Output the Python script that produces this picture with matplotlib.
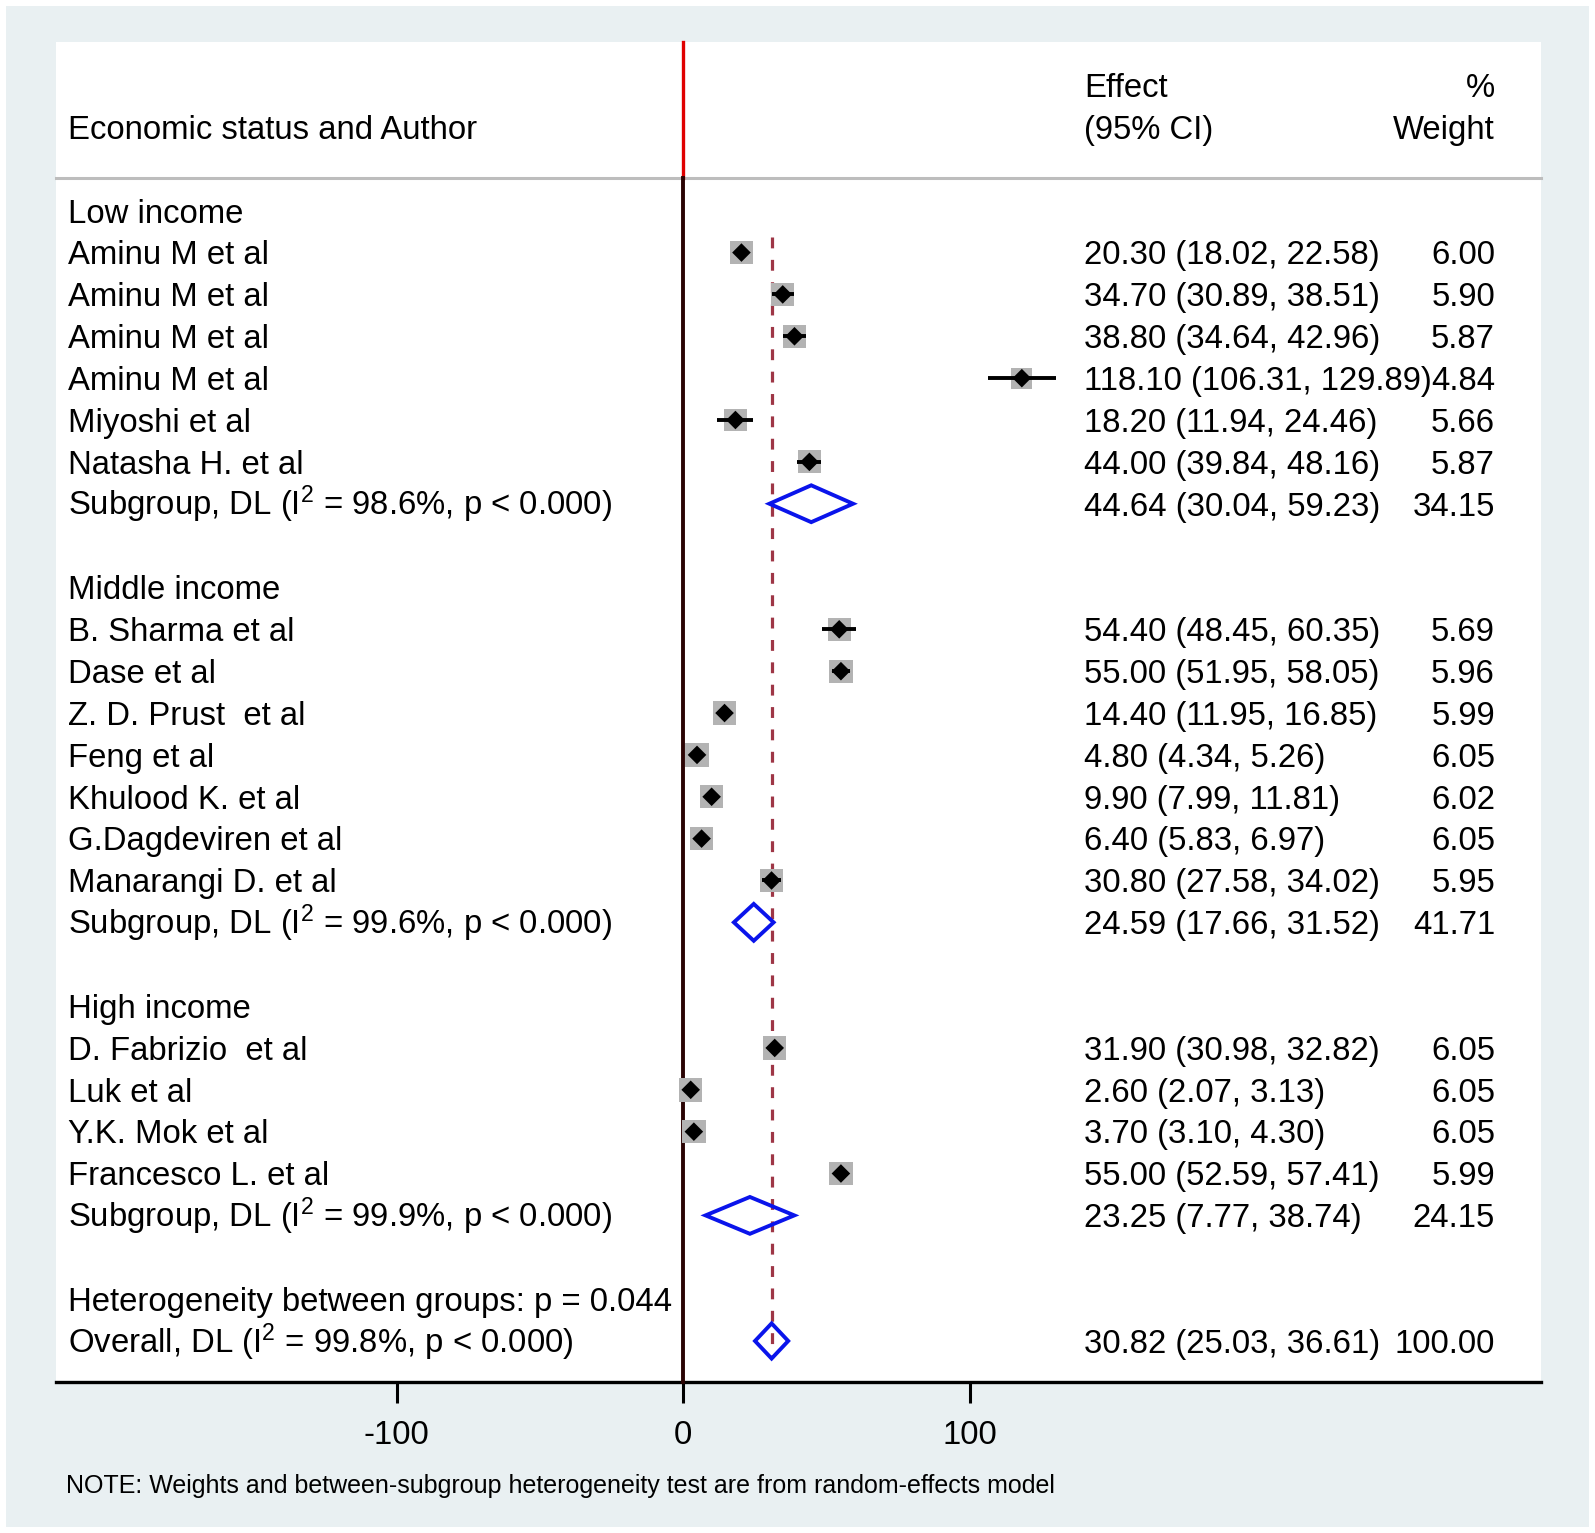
import matplotlib
matplotlib.use('Agg')
import matplotlib.pyplot as plt
from matplotlib.patches import Polygon, Rectangle
import matplotlib.transforms as mtransforms

plt.rcParams['font.family'] = ['Liberation Sans', 'DejaVu Sans']
plt.rcParams['mathtext.fontset'] = 'custom'
plt.rcParams['mathtext.rm'] = 'Liberation Sans'
plt.rcParams['mathtext.it'] = 'Liberation Sans:italic'
plt.rcParams['mathtext.bf'] = 'Liberation Sans:bold'

# ---------------- data ----------------
group_names = ["Low income", "Middle income", "High income"]

low_authors = ["Aminu M et al", "Aminu M et al", "Aminu M et al", "Aminu M et al",
               "Miyoshi et al", "Natasha H. et al"]
low_est = [20.30, 34.70, 38.80, 118.10, 18.20, 44.00]
low_lo = [18.02, 30.89, 34.64, 106.31, 11.94, 39.84]
low_hi = [22.58, 38.51, 42.96, 129.89, 24.46, 48.16]
low_w = [6.00, 5.90, 5.87, 4.84, 5.66, 5.87]

mid_authors = ["B. Sharma et al", "Dase et al", "Z. D. Prust  et al", "Feng et al",
               "Khulood K. et al", "G.Dagdeviren et al", "Manarangi D. et al"]
mid_est = [54.40, 55.00, 14.40, 4.80, 9.90, 6.40, 30.80]
mid_lo = [48.45, 51.95, 11.95, 4.34, 7.99, 5.83, 27.58]
mid_hi = [60.35, 58.05, 16.85, 5.26, 11.81, 6.97, 34.02]
mid_w = [5.69, 5.96, 5.99, 6.05, 6.02, 6.05, 5.95]

high_authors = ["D. Fabrizio  et al", "Luk et al", "Y.K. Mok et al", "Francesco L. et al"]
high_est = [31.90, 2.60, 3.70, 55.00]
high_lo = [30.98, 2.07, 3.10, 52.59]
high_hi = [32.82, 3.13, 4.30, 57.41]
high_w = [6.05, 6.05, 6.05, 5.99]

sub_est = [44.64, 24.59, 23.25]
sub_lo = [30.04, 17.66, 7.77]
sub_hi = [59.23, 31.52, 38.74]
sub_w = [34.15, 41.71, 24.15]
sub_i2 = ["98.6", "99.6", "99.9"]

overall_est = 30.82
overall_lo = 25.03
overall_hi = 36.61
overall_w = 100.00
overall_i2 = "99.8"
between_p = "0.044"

xticks = [-100, 0, 100]

# ---------------- layout ----------------
W, H = 1595, 1533
fig = plt.figure(figsize=(W / 100, H / 100), dpi=100)
fig.patch.set_facecolor('white')
bgax = fig.add_axes([0, 0, 1, 1], zorder=-5)
bgax.set_xlim(0, W)
bgax.set_ylim(H, 0)
bgax.axis('off')
bgax.add_patch(Rectangle((6, 6), 1589 - 6, 1527 - 6, facecolor='#E9F0F2', edgecolor='none'))

L, R, T, B = 56, 1541, 42, 1382
ax = fig.add_axes([L / W, 1 - B / H, (R - L) / W, (B - T) / H], zorder=1)
ax.set_facecolor('white')

XMIN, XMAX = -218.8, 299.2
YTOP, YBOT = -4.03, 27.98
ax.set_xlim(XMIN, XMAX)
ax.set_ylim(YBOT, YTOP)
px_x = (R - L) / (XMAX - XMIN)      # pixels per data unit
px_y = (B - T) / (YBOT - YTOP)      # pixels per row

for s in ['left', 'right', 'top']:
    ax.spines[s].set_visible(False)
ax.spines['bottom'].set_linewidth(2.4)
ax.spines['bottom'].set_color('black')
ax.set_yticks([])
ax.set_xticks(xticks)
ax.set_xticklabels([str(t) for t in xticks])
ax.tick_params(axis='x', length=15, width=2.2, pad=12, labelsize=23.7, colors='black')

FS = 23.7
BASE_OFF = 11.8 / px_y   # baseline offset (rows) so the cap centre sits on the row
tr = mtransforms.blended_transform_factory(ax.transAxes, ax.transData)
x_lab = (68 - L) / (R - L)
x_eff = (1084 - L) / (R - L)
x_wt = (1495 - L) / (R - L)


def txt(x, y, s, ha='left'):
    ax.text(x, y + BASE_OFF, s, transform=tr, ha=ha, va='baseline', fontsize=FS,
            color='black', zorder=7)


# header
txt(x_lab, -2, "Economic status and Author")
txt(x_eff, -3, "Effect")
txt(x_eff, -2, "(95% CI)")
txt(x_wt, -3, "%", ha='right')
txt(x_wt, -2, "Weight", ha='right')
ax.plot([0, 1], [-0.78, -0.78], transform=tr, color='#BDBDBD', lw=2.2, zorder=2, clip_on=False)

# zero lines
ax.plot([0, 0], [YTOP, -0.78], color='#E00000', lw=2.4, zorder=3, clip_on=False)
ax.plot([0, 0], [-0.78, YBOT], color='#2A0303', lw=2.8, zorder=3, clip_on=False)

# overall dashed line
ax.plot([overall_est, overall_est], [0.63, 27.4], color='#9E3646', lw=2.3,
        dashes=(3.4, 3.6), zorder=3)

sq_k = 9.52  # square side in px per sqrt(weight)
dm_hw, dm_hh = 9.3 / px_x, 9.3 / px_y


def study(y, e, lo, hi, w):
    side = sq_k * w ** 0.5
    hw, hh = side / 2 / px_x, side / 2 / px_y
    ax.add_patch(Rectangle((e - hw, y - hh), 2 * hw, 2 * hh, facecolor='#B3B3B3',
                           edgecolor='none', zorder=4))
    ax.plot([lo, hi], [y, y], color='black', lw=2.8, zorder=5, solid_capstyle='butt')
    ax.add_patch(Polygon([(e - dm_hw, y), (e, y - dm_hh), (e + dm_hw, y), (e, y + dm_hh)],
                         closed=True, facecolor='black', edgecolor='none', zorder=6))


def diamond(y, e, lo, hi, hh=0.44):
    ax.add_patch(Polygon([(lo, y), (e, y - hh), (hi, y), (e, y + hh)], closed=True,
                         facecolor='none', edgecolor='#0A14EB', lw=2.8, zorder=6,
                         joinstyle='miter'))


groups = [
    (low_authors, low_est, low_lo, low_hi, low_w),
    (mid_authors, mid_est, mid_lo, mid_hi, mid_w),
    (high_authors, high_est, high_lo, high_hi, high_w),
]

row = 0
for gi, (auth, est, lo, hi, w) in enumerate(groups):
    txt(x_lab, row, group_names[gi])
    row += 1
    for a, e, l, h, ww in zip(auth, est, lo, hi, w):
        txt(x_lab, row, a)
        study(row, e, l, h, ww)
        txt(x_eff, row, f"{e:.2f} ({l:.2f}, {h:.2f})")
        txt(x_wt, row, f"{ww:.2f}", ha='right')
        row += 1
    txt(x_lab, row, f"Subgroup, DL (I$^2$ = {sub_i2[gi]}%, p < 0.000)")
    diamond(row, sub_est[gi], sub_lo[gi], sub_hi[gi])
    txt(x_eff, row, f"{sub_est[gi]:.2f} ({sub_lo[gi]:.2f}, {sub_hi[gi]:.2f})")
    txt(x_wt, row, f"{sub_w[gi]:.2f}", ha='right')
    row += 2

txt(x_lab, row, f"Heterogeneity between groups: p = {between_p}")
row += 1
txt(x_lab, row, f"Overall, DL (I$^2$ = {overall_i2}%, p < 0.000)")
diamond(row, overall_est, overall_lo, overall_hi, hh=0.42)
txt(x_eff, row, f"{overall_est:.2f} ({overall_lo:.2f}, {overall_hi:.2f})")
txt(x_wt, row, f"{overall_w:.2f}", ha='right')

fig.text(66 / W, 1 - 1484 / H,
         "NOTE: Weights and between-subgroup heterogeneity test are from random-effects model",
         ha='left', va='center_baseline', fontsize=18, color='black')

fig.savefig('out.png', dpi=100, facecolor=fig.get_facecolor())
